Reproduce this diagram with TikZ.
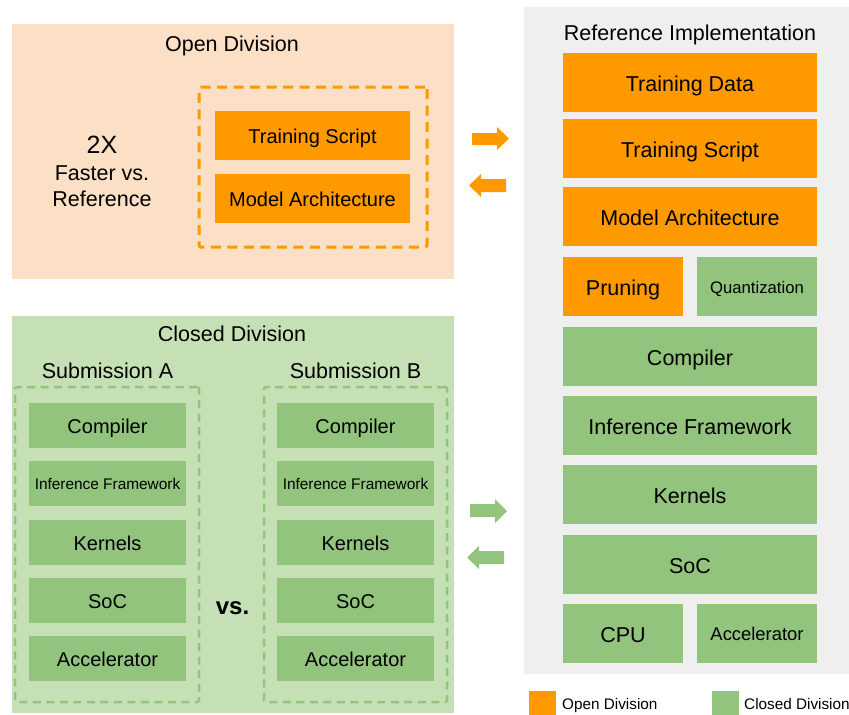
\documentclass[tikz,border=0pt]{standalone}
\usepackage{fontspec}
\setmainfont{Liberation Sans}
\definecolor{peach}{HTML}{FBE0C5}
\definecolor{lgreen}{HTML}{C6E0B6}
\definecolor{panel}{HTML}{EFEFEF}
\definecolor{orng}{HTML}{FF9900}
\definecolor{grn}{HTML}{93C47D}
\tikzset{
  fs/.style args={#1/#2}{font=\fontsize{#1}{#1}\selectfont, text height=#2pt, text depth=0pt},
  bx/.style={rectangle, inner sep=0pt, minimum width=#1},
  obox/.style={bx=254pt, minimum height=59pt, fill=orng, fs=21.5/17.4},
  gbox/.style={bx=254pt, minimum height=59pt, fill=grn, fs=21.5/17.4},
  lbox/.style={bx=157pt, minimum height=45pt, fill=grn, fs=20/16.2},
  title/.style={inner sep=0pt, fs=21.5/17.4},
  odash/.style={draw=orng, line width=3pt, dash pattern=on 10pt off 6.5pt, rounded corners=2pt},
  gdash/.style={draw=grn, line width=2.5pt, dash pattern=on 8pt off 5.5pt, rounded corners=2pt},
  legtext/.style={inner sep=0pt, anchor=west, fs=15.3/12.4},
}
\begin{document}
\begin{tikzpicture}[x=1pt,y=-1pt]
\useasboundingbox (0,0) rectangle (849,715);
% backgrounds
\node[bx=442pt, minimum height=255pt, fill=peach] (open) at (233,151.5) {};
\node[bx=442pt, minimum height=397pt, fill=lgreen] (closed) at (233,514.5) {};
\node[bx=325pt, minimum height=667pt, fill=panel] (ref) at (686.5,340.5) {};
% titles
\node[title] (opent) at (232,43) {Open Division};
\node[title] (reft) at (690,32) {Reference Implementation};
\node[title] (closedt) at (232,333) {Closed Division};
\node[title] (suba) at (107.5,370) {Submission A};
\node[title] (subb) at (355.5,370) {Submission B};
% open division content
\node[bx=228pt, minimum height=160pt, odash] (odash) at (313,167) {};
\node[bx=195pt, minimum height=49pt, fill=orng, fs=20/16.2] (ots) at (312.5,135.5) {Training Script};
\node[bx=195pt, minimum height=49pt, fill=orng, fs=20/16.2] (oma) at (312.5,198.5) {Model Architecture};
\node[inner sep=0pt, fs=25/20.3] (twox) at (102,143) {2X};
\node[title] (faster) at (102,172) {Faster vs.};
\node[title] (refer) at (102,198) {Reference};
% reference implementation column
\node[obox] (rtd) at (690,82.5) {Training Data};
\node[obox] (rts) at (690,148.5) {Training Script};
\node[obox] (rma) at (690,216.5) {Model Architecture};
\node[obox, bx=120pt] (rpr) at (623,286.5) {Pruning};
\node[gbox, bx=120pt, fs=16.7/13.5] (rqu) at (757,286.5) {Quantization};
\node[gbox] (rco) at (690,356.5) {Compiler};
\node[gbox] (rif) at (690,425.5) {Inference Framework};
\node[gbox] (rke) at (690,494.5) {Kernels};
\node[gbox] (rso) at (690,564.5) {SoC};
\node[gbox, bx=120pt] (rcpu) at (623,633.5) {CPU};
\node[gbox, bx=120pt, fs=18.4/14.9] (racc) at (757,633.5) {Accelerator};
% closed division content
\node[bx=184pt, minimum height=315pt, gdash] (da) at (107,544.5) {};
\node[bx=183pt, minimum height=315pt, gdash] (db) at (355.5,544.5) {};
\foreach \n/\x in {a/107.5, b/355.5}{
  \node[lbox] (co\n) at (\x,425) {Compiler};
  \node[lbox, fs=15.4/12.5] (if\n) at (\x,483.5) {Inference Framework};
  \node[lbox] (ke\n) at (\x,542.5) {Kernels};
  \node[lbox] (so\n) at (\x,600.5) {SoC};
  \node[lbox] (ac\n) at (\x,658.5) {Accelerator};
}
\node[inner sep=0pt, fs=24/19.4, font=\fontsize{24}{24}\selectfont\bfseries] (vs) at (232.5,605) {vs.};
% block arrows
\fill[orng] (472,133) -- (497,133) -- (497,127) -- (509,138.5) -- (497,150) -- (497,145) -- (472,145) -- cycle;
\fill[orng] (506,179) -- (481,179) -- (481,174) -- (469,185.5) -- (481,197) -- (481,192) -- (506,192) -- cycle;
\fill[grn] (470,504) -- (495,504) -- (495,499) -- (507,511) -- (495,523) -- (495,517) -- (470,517) -- cycle;
\fill[grn] (504,551) -- (479,551) -- (479,546) -- (467,557.5) -- (479,569) -- (479,564) -- (504,564) -- cycle;
% legend
\node[bx=27pt, minimum height=24pt, fill=orng] (lego) at (542.5,703) {};
\node[legtext] (legot) at (562,703) {Open Division};
\node[bx=27pt, minimum height=24pt, fill=grn] (legg) at (725.5,703) {};
\node[legtext] (leggt) at (744,703) {Closed Division};
\end{tikzpicture}
\end{document}
